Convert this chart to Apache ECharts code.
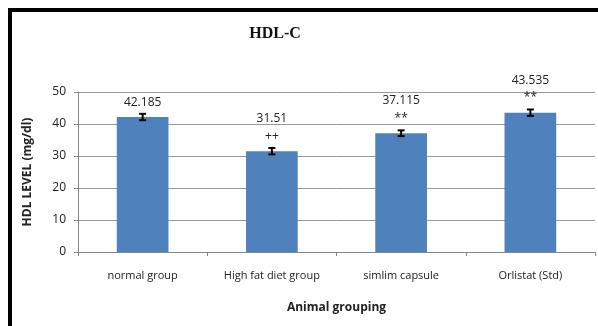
<!DOCTYPE html>
<html>
<head>
<meta charset="utf-8">
<script src="https://cdn.jsdelivr.net/npm/echarts@6/dist/echarts.min.js"></script>
<style>
  html, body { margin: 0; padding: 0; background: #fff; }
  #chart { width: 598px; height: 326px; }
</style>
</head>
<body>
<div id="chart"></div>
<script>
// data
const groups = ['normal group', 'High fat diet group', 'simlim capsule', 'Orlistat (Std)'];
const hdlMean = [42.185, 31.51, 37.115, 43.535];
const hdlErr = [1.0, 1.0, 0.9, 1.0];
const marks = ['', '++', '**', '**'];

const chart = echarts.init(document.getElementById('chart'));
const font = '"Open Sans", "Liberation Sans", sans-serif';

const option = {
  animation: false,
  backgroundColor: '#fff',
  title: {
    text: 'HDL-C',
    left: 270,
    top: 21,
    textAlign: 'center',
    textStyle: { fontFamily: '"Liberation Serif", serif', fontWeight: 'bold', fontSize: 16, color: '#111' }
  },
  graphic: [
    // only top and left edges of the frame are visible
    { type: 'rect', shape: { x: 8, y: 8, width: 590, height: 4 }, style: { fill: '#000' } },
    { type: 'rect', shape: { x: 8, y: 8, width: 4, height: 318 }, style: { fill: '#000' } }
  ],
  grid: { left: 78, right: 3, top: 92, bottom: 74 },
  xAxis: {
    type: 'category',
    data: groups,
    name: 'Animal grouping',
    nameLocation: 'middle',
    nameGap: 50,
    nameTextStyle: { fontFamily: font, fontWeight: 'bold', fontSize: 12, color: '#222' },
    axisLine: { lineStyle: { color: '#888' } },
    axisTick: { show: true, length: 4, lineStyle: { color: '#888' } },
    axisLabel: { interval: 0, fontFamily: font, fontSize: 11, color: '#222', margin: 18 }
  },
  yAxis: {
    type: 'value',
    min: 0,
    max: 50,
    interval: 10,
    name: 'HDL LEVEL (mg/dl)',
    nameLocation: 'middle',
    nameGap: 44,
    nameTextStyle: { fontFamily: font, fontWeight: 'bold', fontSize: 12, color: '#222' },
    axisLine: { show: true, lineStyle: { color: '#888' } },
    axisTick: { show: true, length: 4, lineStyle: { color: '#888' } },
    axisLabel: { fontFamily: font, fontSize: 12, color: '#222', margin: 12 },
    splitLine: { lineStyle: { color: '#999' } }
  },
  series: [
    {
      type: 'bar',
      data: hdlMean,
      barWidth: '40%',
      itemStyle: { color: '#4F81BD' },
      label: {
        show: true,
        position: 'top',
        distance: 6,
        formatter: (p) => {
          const m = marks[p.dataIndex];
          return m ? '{v|' + p.value + '}\n{s|' + m + '}' : '{v|' + p.value + '}';
        },
        rich: {
          v: { fontFamily: font, fontSize: 12, color: '#222', lineHeight: 17 },
          s: { fontFamily: font, fontSize: 12, color: '#222', lineHeight: 18 }
        }
      },
      z: 2
    },
    {
      type: 'custom',
      data: hdlMean.map((v, i) => [i, v - hdlErr[i], v + hdlErr[i]]),
      renderItem: (params, api) => {
        const lo = api.coord([api.value(0), api.value(1)]);
        const hi = api.coord([api.value(0), api.value(2)]);
        const w = 3.5;
        const st = { stroke: '#000', lineWidth: 2 };
        return {
          type: 'group',
          children: [
            { type: 'line', shape: { x1: hi[0], y1: hi[1], x2: lo[0], y2: lo[1] }, style: st },
            { type: 'line', shape: { x1: hi[0] - w, y1: hi[1], x2: hi[0] + w, y2: hi[1] }, style: st },
            { type: 'line', shape: { x1: lo[0] - w, y1: lo[1], x2: lo[0] + w, y2: lo[1] }, style: st }
          ]
        };
      },
      z: 3
    }
  ]
};

chart.setOption(option);
</script>
</body>
</html>
